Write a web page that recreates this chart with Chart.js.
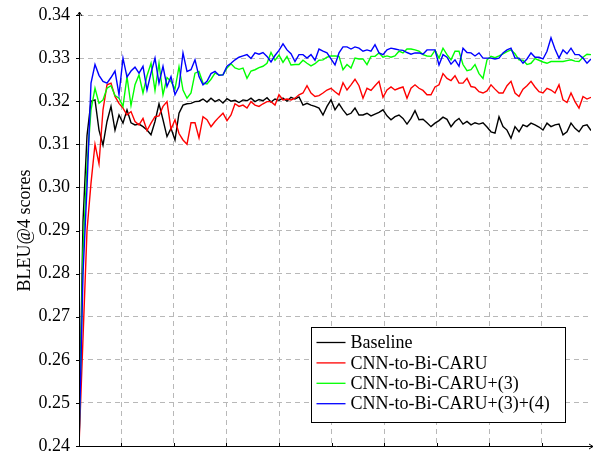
<!DOCTYPE html>
<html>
<head>
<meta charset="utf-8">
<script src="https://cdn.jsdelivr.net/npm/chart.js@4.4.0/dist/chart.umd.min.js"></script>
<style>
  html, body { margin: 0; padding: 0; background: #fff; }
  #wrap { width: 597px; height: 453px; }
</style>
</head>
<body>
<div id="wrap"><canvas id="chart"></canvas></div>
<script>
// ---- data (one sample per ~4 px) ----
const seriesNames = ['Baseline', 'CNN-to-Bi-CARU', 'CNN-to-Bi-CARU+(3)', 'CNN-to-Bi-CARU+(3)+(4)'];
const seriesColors = ['#000000', '#ff0000', '#00ff00', '#0000ff'];
const yTickValues = [0.24, 0.25, 0.26, 0.27, 0.28, 0.29, 0.30, 0.31, 0.32, 0.33, 0.34];

const baseline = [
  0.24, 0.292, 0.312, 0.320, 0.3203, 0.3133, 0.3098, 0.3153, 0.3188, 0.3133,
  0.3168, 0.3149, 0.318, 0.315, 0.3145, 0.3147, 0.3141, 0.3133, 0.3122, 0.3153,
  0.3194, 0.3157, 0.3118, 0.3137, 0.311, 0.3172, 0.3191, 0.3194, 0.3195, 0.3199,
  0.3200, 0.3205, 0.3198, 0.3207, 0.3199, 0.3204, 0.3196, 0.3206, 0.3200, 0.3202,
  0.3197, 0.3203, 0.3201, 0.3207, 0.3199, 0.3204, 0.3201, 0.3208, 0.3198, 0.3205,
  0.3202, 0.3207, 0.3200, 0.3209, 0.3205, 0.3210, 0.3191, 0.3195, 0.3191, 0.3188,
  0.3184, 0.3168, 0.3188, 0.3203, 0.318, 0.3194, 0.318, 0.3168, 0.3172, 0.3184,
  0.3168, 0.3168, 0.3172, 0.3166, 0.317, 0.3174, 0.318, 0.3166, 0.3157, 0.3164,
  0.3168, 0.316, 0.3147, 0.316, 0.3178, 0.3157, 0.3158, 0.315, 0.3141, 0.3149,
  0.3155, 0.3163, 0.3158, 0.3141, 0.3153, 0.316, 0.3147, 0.3153, 0.3145, 0.315,
  0.3147, 0.315, 0.314, 0.3129, 0.3126, 0.3164, 0.3141, 0.3133, 0.3114, 0.3141,
  0.3129, 0.3145, 0.3141, 0.3149, 0.3145, 0.314, 0.3133, 0.3149, 0.3141, 0.3145,
  0.3147, 0.3122, 0.3129, 0.3149, 0.3137, 0.3129, 0.3143, 0.3145, 0.3132
];

const biCaru = [
  0.24, 0.265, 0.290, 0.301, 0.310, 0.3055, 0.318, 0.3238, 0.3242, 0.3211,
  0.3195, 0.3184, 0.3168, 0.3176, 0.3153, 0.3145, 0.316, 0.3132, 0.3149, 0.3164,
  0.3166, 0.3188, 0.3199, 0.3135, 0.3157, 0.3125, 0.311, 0.310, 0.315, 0.315,
  0.3115, 0.3164, 0.3157, 0.3141, 0.3153, 0.3163, 0.3172, 0.3155, 0.3168, 0.3194,
  0.3188, 0.3191, 0.3184, 0.3199, 0.3191, 0.3188, 0.3194, 0.3199, 0.3199, 0.3191,
  0.3215, 0.3203, 0.3205, 0.3203, 0.3207, 0.3215, 0.3219, 0.3236, 0.3219, 0.3211,
  0.3213, 0.3219, 0.3226, 0.323, 0.3222, 0.3215, 0.3243, 0.3226, 0.3238, 0.3251,
  0.3236, 0.3207, 0.323, 0.3225, 0.3236, 0.3246, 0.3209, 0.3226, 0.3233, 0.3226,
  0.323, 0.3233, 0.3207, 0.323, 0.3238, 0.323, 0.3225, 0.3215, 0.3215, 0.3233,
  0.3238, 0.3264, 0.3253, 0.3248, 0.3259, 0.3242, 0.3242, 0.3253, 0.3234, 0.3232,
  0.3222, 0.3219, 0.3224, 0.3238, 0.3228, 0.3219, 0.3219, 0.3236, 0.3246, 0.3219,
  0.3211, 0.3228, 0.3236, 0.3246, 0.3233, 0.3222, 0.3219, 0.323, 0.3226, 0.3219,
  0.3238, 0.3203, 0.3197, 0.3219, 0.3199, 0.3184, 0.3211, 0.3205, 0.3209
];

const biCaru3 = [
  0.24, 0.285, 0.305, 0.318, 0.323, 0.3195, 0.3203, 0.323, 0.3236, 0.3213,
  0.3207, 0.3188, 0.3257, 0.319, 0.3238, 0.3261, 0.3219, 0.3259, 0.3288, 0.3225,
  0.3288, 0.3215, 0.3255, 0.3246, 0.3228, 0.328, 0.3226, 0.3207, 0.3219, 0.3265,
  0.3269, 0.3242, 0.324, 0.3251, 0.3265, 0.3261, 0.3261, 0.3277, 0.3287, 0.3277,
  0.3274, 0.3277, 0.3253, 0.327, 0.3273, 0.3278, 0.3281, 0.3288, 0.3313, 0.3295,
  0.3307, 0.329, 0.3304, 0.3284, 0.3285, 0.3285, 0.3295, 0.3288, 0.3282, 0.3287,
  0.3295, 0.3296, 0.3302, 0.3305, 0.3305, 0.3304, 0.3273, 0.3285, 0.3277, 0.33,
  0.3298, 0.3298, 0.3285, 0.3304, 0.3304, 0.3312, 0.3302, 0.3305, 0.3302, 0.3305,
  0.3316, 0.3312, 0.3321, 0.3321, 0.3319, 0.3316, 0.3308, 0.3305, 0.3304, 0.3318,
  0.33, 0.3323, 0.3308, 0.3296, 0.3316, 0.3316, 0.3285, 0.3271, 0.3273, 0.3285,
  0.3264, 0.3253, 0.3296, 0.3304, 0.3301, 0.3305, 0.331, 0.3315, 0.3319, 0.331,
  0.3296, 0.3295, 0.3285, 0.3288, 0.3299, 0.3295, 0.3291, 0.3288, 0.3292, 0.3292,
  0.3292, 0.3292, 0.3294, 0.3296, 0.3293, 0.3292, 0.3302, 0.3309, 0.3308
];

const biCaru34 = [
  0.24, 0.280, 0.300, 0.3242, 0.3285, 0.326, 0.3246, 0.3242, 0.3255, 0.327,
  0.3215, 0.330, 0.3256, 0.327, 0.3279, 0.3265, 0.3281, 0.3226, 0.3265, 0.33,
  0.3242, 0.3281, 0.3234, 0.3257, 0.3215, 0.3234, 0.3312, 0.3269, 0.3273, 0.3296,
  0.3257, 0.3238, 0.3246, 0.3264, 0.3269, 0.326, 0.3261, 0.3281, 0.3288, 0.3296,
  0.3302, 0.3305, 0.3308, 0.3299, 0.3312, 0.3309, 0.3313, 0.3304, 0.3291, 0.3306,
  0.3318, 0.3333, 0.3319, 0.331, 0.3292, 0.3308, 0.3308, 0.33, 0.3308, 0.3295,
  0.3321, 0.3316, 0.3312, 0.3298, 0.3284, 0.3312, 0.3326, 0.3326, 0.3321, 0.3326,
  0.3323, 0.3316, 0.3319, 0.3316, 0.3331, 0.3312, 0.3308, 0.3319, 0.3323, 0.3321,
  0.3319, 0.3318, 0.3313, 0.3309, 0.3312, 0.3312, 0.3309, 0.3319, 0.3319, 0.3319,
  0.3284, 0.3308, 0.3302, 0.3286, 0.3296, 0.3281, 0.3323, 0.3313, 0.3312, 0.3305,
  0.3312, 0.33, 0.33, 0.33, 0.3298, 0.33, 0.3312, 0.3319, 0.3323, 0.33,
  0.33, 0.3288, 0.3298, 0.3312, 0.3302, 0.3302, 0.3298, 0.3316, 0.3347, 0.3321,
  0.33, 0.3319, 0.331, 0.3323, 0.3308, 0.3308, 0.33, 0.3288, 0.3298
];

const allSeries = [baseline, biCaru, biCaru3, biCaru34];

// x grid: first gridline and spacing, in sample units
const X_FIRST_GRID = 10.58;
const X_GRID_STEP = 13.14;
const X_GRID_COUNT = 9;

const FONT = 'Liberation Serif';

// axes with arrows, ticks, and the boxed legend
const axesAndLegend = {
  id: 'axesAndLegend',
  afterDatasetsDraw(chart) {
    const { ctx, chartArea: a } = chart;
    const xs = chart.scales.x, ys = chart.scales.y;
    ctx.save();
    ctx.strokeStyle = '#000';
    ctx.lineWidth = 1;

    // tick marks
    ctx.beginPath();
    xs.ticks.forEach(t => {
      const px = Math.round(xs.getPixelForValue(t.value)) + 0.5;
      ctx.moveTo(px, a.bottom); ctx.lineTo(px, a.bottom - 3);
    });
    ys.ticks.forEach(t => {
      const py = Math.round(ys.getPixelForValue(t.value)) + 0.5;
      ctx.moveTo(a.left - 3, py); ctx.lineTo(a.left + 1, py);
    });
    ctx.stroke();

    // axis lines
    const L = a.left + 0.5, B = a.bottom + 0.5;
    ctx.beginPath();
    ctx.moveTo(L, B); ctx.lineTo(a.right + 2, B);
    ctx.moveTo(L, B); ctx.lineTo(L, a.top - 3);
    ctx.stroke();
    // arrow heads
    ctx.beginPath();
    ctx.moveTo(a.right - 2, B - 2.5); ctx.lineTo(a.right + 2, B); ctx.lineTo(a.right - 2, B + 2.5);
    ctx.moveTo(L - 2.5, a.top + 1); ctx.lineTo(L, a.top - 3); ctx.lineTo(L + 2.5, a.top + 1);
    ctx.stroke();

    // legend
    const bx = 311.5, by = 327.5, bw = 254, bh = 95, rowH = 20.4;
    ctx.fillStyle = '#fff';
    ctx.fillRect(bx, by, bw, bh);
    ctx.strokeRect(bx, by, bw, bh);
    ctx.font = '18px "' + FONT + '"';
    ctx.textBaseline = 'middle';
    ctx.textAlign = 'left';
    chart.data.datasets.forEach((ds, i) => {
      const cy = by + 15 + i * rowH;
      ctx.strokeStyle = ds.borderColor;
      ctx.lineWidth = 1.3;
      ctx.beginPath(); ctx.moveTo(bx + 5, cy); ctx.lineTo(bx + 34, cy); ctx.stroke();
      ctx.fillStyle = '#000';
      ctx.fillText(ds.label, bx + 39, cy + 1);
    });
    ctx.restore();
  }
};

const datasets = allSeries.map((vals, i) => ({
  label: seriesNames[i],
  data: vals.map((v, k) => ({ x: k, y: v })),
  borderColor: seriesColors[i],
  backgroundColor: seriesColors[i],
  borderWidth: 1.4,
  pointRadius: 0,
  tension: 0,
  fill: false,
  order: allSeries.length - i
}));

new Chart(document.getElementById('chart'), {
  type: 'line',
  data: { datasets },
  options: {
    responsive: true,
    maintainAspectRatio: false,
    animation: false,
    layout: { padding: { top: 15, right: 6, bottom: 0, left: 0 } },
    plugins: { legend: { display: false }, tooltip: { enabled: false } },
    scales: {
      x: {
        type: 'linear',
        min: 0,
        max: baseline.length - 1,
        afterBuildTicks: s => {
          s.ticks = [];
          for (let k = 0; k < X_GRID_COUNT; k++) s.ticks.push({ value: X_FIRST_GRID + k * X_GRID_STEP });
        },
        afterFit: s => { s.height = 7; s.paddingLeft = 0; s.paddingRight = 0; },
        ticks: { display: false },
        grid: { color: '#b8b8b8', lineWidth: 1, drawTicks: false },
        border: { display: false, dash: [5, 4] }
      },
      y: {
        min: 0.24,
        max: 0.34,
        afterBuildTicks: s => { s.ticks = yTickValues.map(v => ({ value: v })); },
        afterFit: s => { s.width = 79; s.paddingTop = 0; s.paddingBottom = 0; },
        ticks: {
          color: '#000',
          padding: 9,
          font: { family: FONT, size: 18 },
          callback: v => v.toFixed(2)
        },
        grid: { color: '#b8b8b8', lineWidth: 1, drawTicks: false },
        border: { display: false, dash: [5, 4] },
        title: {
          display: true,
          text: 'BLEU@4 scores',
          color: '#000',
          font: { family: FONT, size: 18 },
          padding: { top: 14, bottom: 0 }
        }
      }
    }
  },
  plugins: [axesAndLegend]
});
</script>
</body>
</html>
